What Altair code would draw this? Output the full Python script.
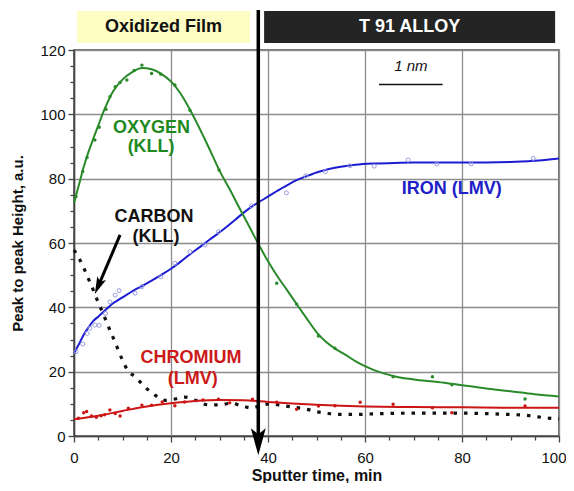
import altair as alt
import pandas as pd

# ---------------- data ----------------
OXY_CURVE_X = [0, 1, 2, 3, 4, 5, 6, 7, 8, 10, 12, 14, 16, 18, 20, 22, 24, 26, 28, 30, 32, 34, 36, 38, 40,
               42, 44, 46, 48, 50, 52, 54, 56, 58, 60, 62, 64, 66, 70, 75, 80, 85, 90, 95, 100]
OXY_CURVE_Y = [72.4, 78, 83.6, 88.4, 92.5, 96.5, 100.5, 104, 107, 110.8, 113.1, 114.4, 114, 112.6, 110.2,
               106.4, 101.2, 95.3, 89, 82.5, 77, 71.2, 65.5, 59.8, 54.3, 49.5, 45.2, 40.8, 36.5, 32.3,
               29.2, 27, 25.2, 23.3, 21.7, 20.4, 19.4, 18.6, 17.6, 16.8, 15.8, 14.8, 13.9, 13, 12.3]
OXY_PTS_X = [0.4, 1.8, 2.7, 4.3, 5.2, 6.6, 7.4, 8.5, 9.5, 10.9, 12.4, 14, 16, 17.9, 20.8, 23.9, 29.9,
             41.8, 45.9, 50.4, 53.8, 65.8, 73.9, 77.9, 93]
OXY_PTS_Y = [74.4, 82.2, 86.6, 92, 96, 101.6, 105.5, 108.6, 109.9, 110.7, 113.6, 115.3, 112.7, 112.5,
             109.1, 101.3, 82.7, 47.5, 41, 31.1, 27.3, 18.4, 18.4, 15.9, 11.5]

FE_CURVE_X = [0, 1, 2, 3, 4, 5, 6, 8, 10, 12, 14, 16, 18, 20, 22, 24, 26, 28, 30, 32, 34, 36, 38, 40,
              42, 44, 46, 48, 50, 52, 55, 58, 62, 66, 70, 80, 90, 95, 100]
FE_CURVE_Y = [25.7, 28.5, 31.5, 33.8, 35.8, 37.1, 38.5, 41.2, 43.1, 45, 46.6, 48.3, 50.1, 52, 54.2,
              56.6, 58.8, 61.1, 63.3, 65.7, 68.2, 70.6, 72.6, 74.4, 76.3, 78, 79.6, 80.8, 81.9, 82.8,
              83.7, 84.3, 84.7, 84.9, 85, 85, 85.2, 85.6, 86.3]
FE_PTS_X = [0.4, 1.8, 2.7, 3.3, 4.3, 5.2, 6.5, 7.4, 8.5, 9.3, 12.6, 14, 17.9, 20.8, 23.9, 27, 29.8,
            36.6, 43.8, 47.8, 51.8, 56.9, 61.9, 68.9, 74.8, 81.9, 94.7]
FE_PTS_Y = [26.2, 28.6, 31.9, 33.5, 34.5, 34.4, 38.1, 41.7, 43.8, 45.2, 44.4, 46.4, 49.5, 53.7, 57.3,
            59.4, 63.5, 71.5, 75.6, 80.9, 82.2, 84, 83.9, 85.8, 84.6, 84.6, 86.3]

CR_CURVE_X = [0, 5, 10, 15, 20, 25, 30, 35, 40, 45, 50, 55, 60, 70, 80, 90, 100]
CR_CURVE_Y = [5.2, 6.3, 7.8, 9.2, 10.2, 10.9, 11.2, 11.1, 10.6, 10.1, 9.7, 9.4, 9.2, 9.0, 8.9, 8.8, 8.8]
CR_PTS_X = [0.9, 2, 2.6, 3.6, 4.6, 5.6, 6.3, 7.4, 8.5, 9.5, 11.2, 14, 16, 18.2, 20.8, 22.8, 26.6, 29.8,
            32.1, 36.8, 41.8, 45.9, 50.4, 53.8, 59, 65.8, 73.9, 77.9, 93]
CR_PTS_Y = [5.5, 7.2, 7.6, 6.2, 5.8, 6.3, 6.6, 8.1, 7, 6.2, 8.6, 9.6, 9.6, 10.6, 9.4, 10.6, 11.2, 11.4,
            10.3, 11.4, 10.5, 8.3, 9.3, 9.4, 10.5, 9.9, 8.8, 7.2, 9.3]

C_CURVE_X = [0, 1, 2, 3, 4, 5, 6, 7, 8, 9, 10, 11, 12.6, 14.6, 16.7, 18.8, 20.5, 22.9, 25, 27.7, 30,
             32.4, 34.5, 36.6, 38.7, 40.4, 43.2, 45.6, 47.7, 50.2, 52.4, 54.4, 58, 62, 70, 80, 88,
             94, 97.5, 100]
C_CURVE_Y = [57.8, 55.4, 52.3, 48.8, 45.3, 41.5, 38.1, 34.4, 30.8, 27.2, 23.6, 20.6, 18.4, 15.3, 12.7,
             11.1, 11.4, 12.1, 11.1, 9.7, 9.7, 10.2, 9.4, 8.7, 9.6, 10.0, 9.4, 8.9, 8.4, 7.5, 7.0, 6.7,
             6.7, 6.9, 7.1, 7.1, 6.8, 6.3, 5.6, 5.3]

HEADER_LABELS = ["Oxidized Film", "T 91 ALLOY"]
HEADER_X0 = [0.6, 39.2]
HEADER_X1 = [36.3, 99.2]
HEADER_Y0 = [122.2, 122.2]
HEADER_Y1 = [132.1, 132.1]
HEADER_FILL = ["#fdfcc2", "#242424"]
HEADER_TEXT_COLOR = ["#111111", "#ffffff"]

ANNOT_TEXT = ["OXYGEN", "(KLL)", "CARBON", "(KLL)", "IRON (LMV)", "CHROMIUM", "(LMV)"]
ANNOT_X = [16.0, 15.9, 16.5, 16.9, 77.9, 24.1, 24.5]
ANNOT_Y = [95.8, 89.9, 68.1, 61.9, 76.7, 24.2, 17.6]
ANNOT_COLOR = ["#1e8a1e", "#1e8a1e", "#111111", "#111111", "#2020c8", "#cc1a1a", "#cc1a1a"]

GREEN = "#2a8a2a"
BLUE = "#1c1cd2"
RED = "#cc1515"

XTITLE = "Sputter time, min"
YTITLE = "Peak to peak Height, a.u."

# ---------------- scales / axes ----------------
xscale = alt.Scale(domain=[0, 100], nice=False, zero=False)
yscale = alt.Scale(domain=[0, 120], nice=False, zero=False)

major = "datum.value % 20 === 0"
xaxis = alt.Axis(
    title=XTITLE, values=list(range(0, 101, 5)),
    labelExpr="datum.value % 20 === 0 ? datum.label : ''",
    tickSize={"condition": {"test": major, "value": 6}, "value": 4},
    gridOpacity={"condition": {"test": major, "value": 1}, "value": 0},
    labelAlign={"condition": {"test": "datum.value === 100", "value": "right"}, "value": "center"},
    labelOffset={"condition": {"test": "datum.value === 100", "value": 7}, "value": 0},
    grid=True, labelFontSize=15, labelPadding=8, labelColor="#111",
    titleFontSize=16, titleFontWeight="bold", titleColor="#111",
    titleY=39, titleBaseline="middle", labelFlush=False,
)
yaxis = alt.Axis(
    title=YTITLE, values=list(range(0, 121, 5)),
    labelExpr="datum.value % 20 === 0 ? datum.label : ''",
    tickSize={"condition": {"test": major, "value": 6}, "value": 4},
    gridOpacity={"condition": {"test": major, "value": 1}, "value": 0},
    grid=True, labelFontSize=15, labelPadding=3, labelColor="#111",
    titleFontSize=15, titleFontWeight="bold", titleColor="#111",
    titleX=-57, titleBaseline="middle", labelFlush=False,
)


def X(field):
    return alt.X(field, type="quantitative", scale=xscale, axis=xaxis)


def Y(field):
    return alt.Y(field, type="quantitative", scale=yscale, axis=yaxis)


def curve_df(xs, ys):
    return pd.DataFrame({"x": xs, "y": ys})


# ---------------- layers ----------------
header_df = pd.DataFrame({"label": HEADER_LABELS, "x0": HEADER_X0, "x1": HEADER_X1,
                          "y0": HEADER_Y0, "y1": HEADER_Y1, "fill": HEADER_FILL,
                          "tc": HEADER_TEXT_COLOR})
header_df["xm"] = (header_df["x0"] + header_df["x1"]) / 2
header_df["ym"] = (header_df["y0"] + header_df["y1"]) / 2

headers = alt.Chart(header_df).mark_rect().encode(
    x=X("x0"), x2="x1", y=Y("y0"), y2="y1",
    color=alt.Color("fill:N", scale=None),
)
header_text = alt.Chart(header_df).mark_text(fontSize=18, fontWeight="bold", baseline="middle").encode(
    x=X("xm"), y=Y("ym"), text="label:N", color=alt.Color("tc:N", scale=None),
)


def line(xs, ys, color, **kw):
    return alt.Chart(curve_df(xs, ys)).mark_line(color=color, interpolate="monotone", **kw).encode(
        x=X("x"), y=Y("y"))


oxy_line = line(OXY_CURVE_X, OXY_CURVE_Y, GREEN, strokeWidth=2)
fe_line = line(FE_CURVE_X, FE_CURVE_Y, BLUE, strokeWidth=2)
cr_line = line(CR_CURVE_X, CR_CURVE_Y, RED, strokeWidth=2)
c_line = line(C_CURVE_X, C_CURVE_Y, "#111111", strokeWidth=3.2, strokeDash=[3.5, 7])

oxy_pts = alt.Chart(curve_df(OXY_PTS_X, OXY_PTS_Y)).mark_point(
    filled=True, color=GREEN, size=12, opacity=1).encode(x=X("x"), y=Y("y"))
fe_pts = alt.Chart(curve_df(FE_PTS_X, FE_PTS_Y)).mark_point(
    filled=False, color="#9a9ee0", size=16, strokeWidth=1, opacity=1).encode(x=X("x"), y=Y("y"))
cr_pts = alt.Chart(curve_df(CR_PTS_X, CR_PTS_Y)).mark_point(
    filled=True, color=RED, size=12, opacity=1).encode(x=X("x"), y=Y("y"))

# vertical boundary arrow
ARROW_X = [38.0]
ARROW_TOP = [132.4]
ARROW_HEAD_Y = [-1.8]
varrow_df = pd.DataFrame({"x": ARROW_X, "y": ARROW_TOP, "y2": ARROW_HEAD_Y})
varrow_line = alt.Chart(varrow_df).mark_rule(color="#000", strokeWidth=3.5).encode(
    x=X("x"), y=Y("y"), y2="y2")
DART = "M-0.55,-1L0,-0.55L0.55,-1L0,1Z"
varrow_head = alt.Chart(varrow_df).mark_point(
    shape=DART, filled=True, color="#000", size=729, opacity=1).encode(x=X("x"), y=Y("y2"))

# carbon arrow
CARROW_TAIL = (9.5, 62.5)
CARROW_HEAD = (5.0, 46.6)
carrow_df = pd.DataFrame({"x": [CARROW_TAIL[0]], "y": [CARROW_TAIL[1]],
                          "x2": [CARROW_HEAD[0]], "y2": [CARROW_HEAD[1]]})
carrow_line = alt.Chart(carrow_df).mark_rule(color="#000", strokeWidth=3).encode(
    x=X("x"), y=Y("y"), x2="x2", y2="y2")
carrow_head = alt.Chart(carrow_df).mark_point(
    shape=DART, filled=True, color="#000", size=300, angle=23, opacity=1).encode(x=X("x2"), y=Y("y2"))

annot_df = pd.DataFrame({"t": ANNOT_TEXT, "x": ANNOT_X, "y": ANNOT_Y, "c": ANNOT_COLOR})
annots = alt.Chart(annot_df).mark_text(fontSize=18, fontWeight="bold", baseline="middle").encode(
    x=X("x"), y=Y("y"), text="t:N", color=alt.Color("c:N", scale=None))

# scale bar
SCALE_X = [62.9]
SCALE_X2 = [76.0]
SCALE_Y = [109.3]
SCALE_LABEL = ["1 nm"]
scale_df = pd.DataFrame({"x": SCALE_X, "x2": SCALE_X2, "y": SCALE_Y, "t": SCALE_LABEL})
scale_df["xm"] = (scale_df["x"] + scale_df["x2"]) / 2
scale_df["ty"] = [114.9]
scale_bar = alt.Chart(scale_df).mark_rule(color="#111", strokeWidth=1.5).encode(
    x=X("x"), x2="x2", y=Y("y"))
scale_text = alt.Chart(scale_df).mark_text(fontSize=15, fontStyle="italic", baseline="middle",
                                           color="#111").encode(x=X("xm"), y=Y("ty"), text="t:N")

chart = alt.layer(
    headers, header_text,
    c_line, cr_line, fe_line, oxy_line,
    cr_pts, fe_pts, oxy_pts,
    varrow_line, varrow_head, carrow_line, carrow_head,
    annots, scale_bar, scale_text,
).properties(
    width=485, height=386,
    autosize=alt.AutoSizeParams(type="none"),
    padding={"left": 66, "top": 42, "right": 7, "bottom": 47},
).configure(
    font="Liberation Sans",
).configure_view(
    stroke="#444", strokeWidth=1.5,
).configure_axis(
    domainColor="#444", domainWidth=1.5, tickColor="#444", tickWidth=1.3,
    gridColor="#8c8c8c", gridWidth=1.3,
)

chart.save("out.html", embed_options={"renderer": "svg", "actions": False})
